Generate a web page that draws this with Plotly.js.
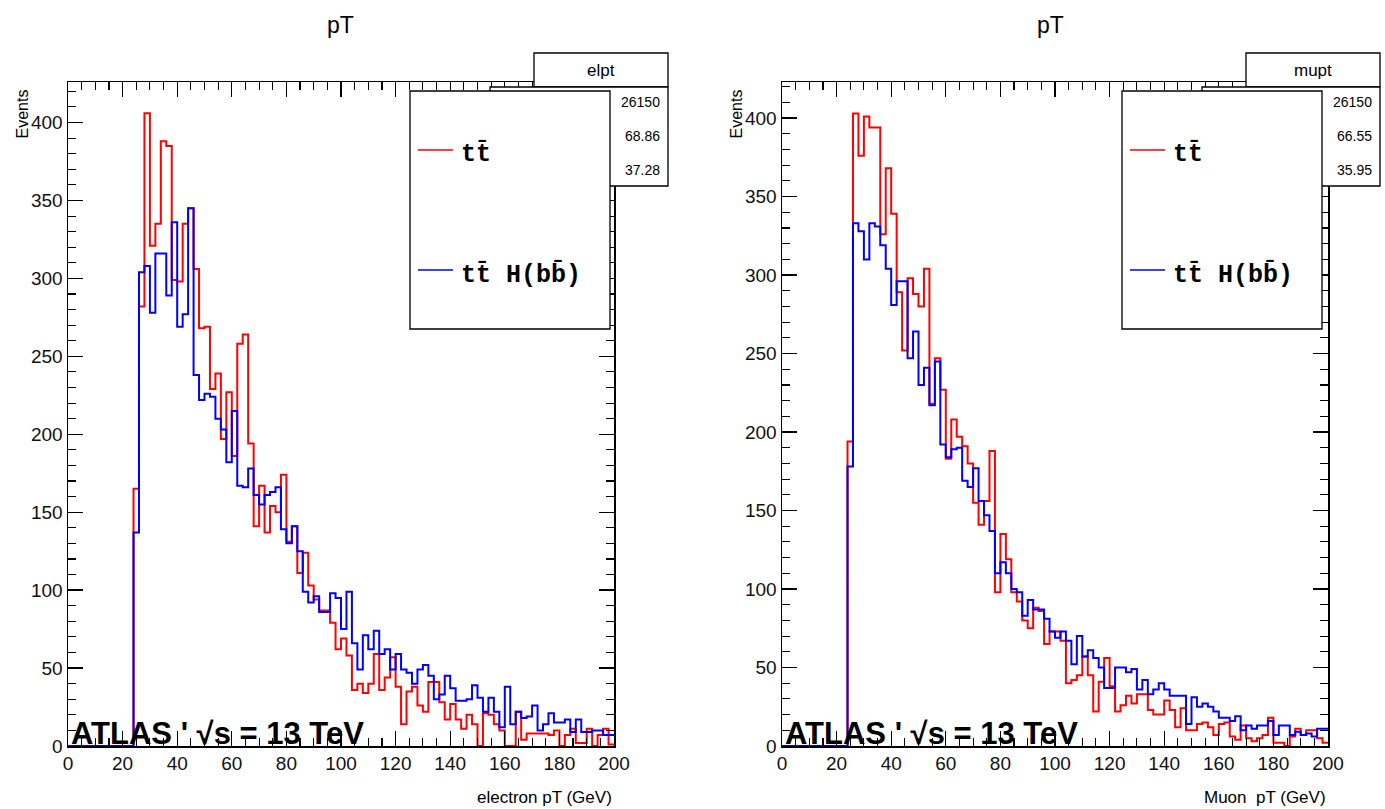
<!DOCTYPE html>
<html>
<head>
<meta charset="utf-8">
<script src="https://cdn.plot.ly/plotly-3.0.1.min.js"></script>
<style>
  html, body { margin: 0; padding: 0; background: #fff; }
  #chart { width: 1385px; height: 809px; }
</style>
</head>
<body>
<div id="chart"></div>
<script>
// ---------------- DATA ----------------
// Histogram definition: 100 bins of 2 GeV from 0 to 200 GeV
const BIN_WIDTH = 2;
const X_MIN = 0;

// Left panel: electron pT, ttbar (red)
const elTT = [
  0,0,0,0,0,0,0,0,0,0,0,0,
  165,282,406,321,335,388,385,299,298,335,
  345,306,268,269,229,239,197,227,186,258,
  264,194,141,167,137,154,150,174,131,141,
  111,124,103,94,87,87,79,62,69,58,
  36,40,34,40,59,36,44,57,38,14,
  35,38,26,22,41,41,28,17,27,17,
  11,20,14,0,21,20,14,10,0,0,
  22,4,8,8,8,8,7,10,0,7,
  11,2,2,11,0,7,11,1
];
// Left panel: electron pT, ttH(bb) (blue)
const elTTH = [
  0,0,0,0,0,0,0,0,0,0,0,0,
  137,304,308,278,316,316,289,336,269,277,
  345,238,222,226,224,210,203,182,215,167,
  166,178,161,155,161,163,166,139,130,141,
  125,99,92,96,86,86,98,95,75,99,
  66,49,71,62,74,59,62,49,59,49,
  47,40,49,52,45,30,33,45,37,29,
  29,30,39,31,22,31,22,12,38,14,
  22,18,19,26,10,14,21,15,15,17,
  9,17,9,9,10,10,7,7
];
// Right panel: muon pT, ttbar (red)
const muTT = [
  0,0,0,0,0,0,0,0,0,0,0,0,
  194,403,376,401,394,394,326,368,339,289,
  252,298,288,280,304,218,247,227,183,208,
  197,191,180,155,141,156,188,98,135,119,
  98,92,80,75,88,86,65,73,73,67,
  40,42,45,57,45,22,41,56,38,22,
  26,32,27,33,33,23,20,20,29,23,
  12,24,10,10,14,15,12,7,14,15,
  6,4,13,5,3,5,7,18,2,2,
  0,6,11,7,10,10,5,2
];
// Right panel: muon pT, ttH(bb) (blue)
const muTTH = [
  0,0,0,0,0,0,0,0,0,0,0,0,
  178,333,328,310,333,331,319,304,281,296,
  296,247,264,230,241,217,245,192,184,189,
  190,169,165,177,156,147,137,110,117,110,
  100,98,83,93,87,87,81,73,69,73,
  67,52,70,57,61,56,50,37,37,50,
  50,47,49,36,42,33,36,40,36,32,
  32,32,14,31,25,27,25,22,18,18,
  16,19,10,13,11,13,13,16,7,13,
  13,7,9,7,8,6,11,11
];

const panelTitles = ["pT", "pT"];
const xTitles = ["electron pT (GeV)", "Muon  pT (GeV)"];
const yTitle = "Events";
const statNames = ["elpt", "mupt"];
const statEntries = ["26150", "26150"];
const statMeans = ["68.86", "66.55"];
const statRMS = ["37.28", "35.95"];
const legendLabels = ["tt\u0304", "tt\u0304 H(bb\u0304)"];
const energyLabel = "ATLAS ' \u221As = 13 TeV";

// ---------------- HELPERS ----------------
const W = 1385, H = 809;
const px = x => x / W;
const py = y => 1 - y / H;

function histXY(counts) {
  const xs = [], ys = [];
  for (let i = 0; i < counts.length; i++) {
    xs.push(X_MIN + i * BIN_WIDTH);
    ys.push(counts[i]);
  }
  xs.push(X_MIN + counts.length * BIN_WIDTH);
  ys.push(counts[counts.length - 1]);
  return {x: xs, y: ys};
}

function histTrace(counts, color, xa, ya) {
  const d = histXY(counts);
  return {
    type: 'scatter', mode: 'lines', x: d.x, y: d.y,
    line: {shape: 'hv', color: color, width: 2},
    xaxis: xa, yaxis: ya, showlegend: false, hoverinfo: 'skip',
    cliponaxis: true
  };
}

const traces = [
  histTrace(elTT, '#ff0000', 'x', 'y'),
  histTrace(elTTH, '#0000ff', 'x', 'y'),
  histTrace(muTT, '#ff0000', 'x2', 'y2'),
  histTrace(muTTH, '#0000ff', 'x2', 'y2')
];

// Frame geometry (pixels)
const frames = [
  {l: 68, r: 614, t: 82, b: 746, ymax: 426},
  {l: 782, r: 1328, t: 82, b: 746, ymax: 423}
];

const tickFont = {family: 'Liberation Sans, Arial, sans-serif', size: 19, color: '#111'};

function xAxis(f, anchor) {
  return {
    domain: [px(f.l), px(f.r)], anchor: anchor, range: [0, 200],
    showgrid: false, zeroline: false, showline: true, linecolor: '#000', linewidth: 1.5,
    mirror: 'allticks', ticks: 'inside', ticklen: 15, tickwidth: 1.3, tickcolor: '#000',
    dtick: 20, tick0: 0, tickfont: tickFont,
    minor: {dtick: 5, ticks: 'inside', ticklen: 8, tickwidth: 1.1, tickcolor: '#000', showgrid: false},
    fixedrange: true
  };
}
function yAxis(f, anchor) {
  return {
    domain: [py(f.b), py(f.t)], anchor: anchor, range: [0, f.ymax],
    showgrid: false, zeroline: false, showline: true, linecolor: '#000', linewidth: 1.5,
    mirror: 'allticks', ticks: 'inside', ticklen: 15, tickwidth: 1.3, tickcolor: '#000',
    dtick: 50, tick0: 0, tickfont: tickFont,
    minor: {dtick: 10, ticks: 'inside', ticklen: 8, tickwidth: 1.1, tickcolor: '#000', showgrid: false},
    fixedrange: true
  };
}

const annotations = [];
const shapes = [];
const sans = 'Liberation Sans, Arial, sans-serif';

// panel decorations
const deco = [
  {titleX: 340, evX: 22, statL: 534, statR: 668, numL: 610, legL: 410, legR: 610},
  {titleX: 1050, evX: 736, statL: 1246, statR: 1380, numL: 1322, legL: 1122, legR: 1322}
];

deco.forEach((d, i) => {
  const f = frames[i];
  annotations.push({
    xref: 'paper', yref: 'paper', x: px(d.titleX), y: py(25), text: panelTitles[i],
    showarrow: false, xanchor: 'center', yanchor: 'middle',
    font: {family: sans, size: 23, color: '#000'}
  });
  annotations.push({
    xref: 'paper', yref: 'paper', x: px(d.evX), y: py(88), text: yTitle,
    showarrow: false, xanchor: 'center', yanchor: 'top', textangle: -90,
    font: {family: sans, size: 16, color: '#000'}
  });
  annotations.push({
    xref: 'paper', yref: 'paper', x: px(f.r), y: py(797), text: xTitles[i],
    showarrow: false, xanchor: 'right', yanchor: 'middle',
    font: {family: sans, size: 17, color: '#000'}
  });
  annotations.push({
    xref: 'paper', yref: 'paper', x: px(f.l + 1), y: py(753), text: '<b>' + energyLabel + '</b>',
    showarrow: false, xanchor: 'left', yanchor: 'bottom',
    font: {family: sans, size: 31, color: '#000'}
  });
  // stats box
  shapes.push({type: 'rect', xref: 'paper', yref: 'paper',
    x0: px(d.statL), x1: px(d.statR), y0: py(87), y1: py(53),
    line: {color: '#000', width: 1.3}, fillcolor: '#fff', layer: 'above'});
  shapes.push({type: 'rect', xref: 'paper', yref: 'paper',
    x0: px(d.numL - 120), x1: px(d.statR), y0: py(186), y1: py(87),
    line: {color: '#000', width: 1.3}, fillcolor: '#fff', layer: 'above'});
  annotations.push({
    xref: 'paper', yref: 'paper', x: px((d.statL + d.statR) / 2), y: py(70), text: statNames[i],
    showarrow: false, xanchor: 'center', yanchor: 'middle',
    font: {family: sans, size: 17, color: '#000'}
  });
  [statEntries[i], statMeans[i], statRMS[i]].forEach((t, k) => {
    annotations.push({
      xref: 'paper', yref: 'paper', x: px(d.statR - 6), y: py(102 + 34 * k), text: t,
      showarrow: false, xanchor: 'right', yanchor: 'middle',
      font: {family: sans, size: 14, color: '#000'}
    });
  });
  // legend box
  shapes.push({type: 'rect', xref: 'paper', yref: 'paper',
    x0: px(d.legL), x1: px(d.legR), y0: py(329), y1: py(91),
    line: {color: '#000', width: 1.3}, fillcolor: '#fff', layer: 'above'});
  const colors = ['#ff0000', '#0000ff'];
  const ly = [150, 270];
  legendLabels.forEach((t, k) => {
    shapes.push({type: 'line', xref: 'paper', yref: 'paper',
      x0: px(d.legL + 8), x1: px(d.legL + 43), y0: py(ly[k]), y1: py(ly[k]),
      line: {color: colors[k], width: 1.6}, layer: 'above'});
    annotations.push({
      xref: 'paper', yref: 'paper', x: px(d.legL + 49), y: py(ly[k] + 4), text: '<b>' + t + '</b>',
      showarrow: false, xanchor: 'left', yanchor: 'middle',
      font: {family: 'Liberation Mono, Courier New, monospace', size: 25, color: '#000'}
    });
  });
});

const layout = {
  width: W, height: H,
  margin: {l: 0, r: 0, t: 0, b: 0},
  paper_bgcolor: '#fff', plot_bgcolor: '#fff',
  showlegend: false,
  xaxis: xAxis(frames[0], 'y'),
  yaxis: yAxis(frames[0], 'x'),
  xaxis2: xAxis(frames[1], 'y2'),
  yaxis2: yAxis(frames[1], 'x2'),
  annotations: annotations,
  shapes: shapes
};

Plotly.newPlot('chart', traces, layout, {staticPlot: true, displayModeBar: false});
</script>
</body>
</html>
